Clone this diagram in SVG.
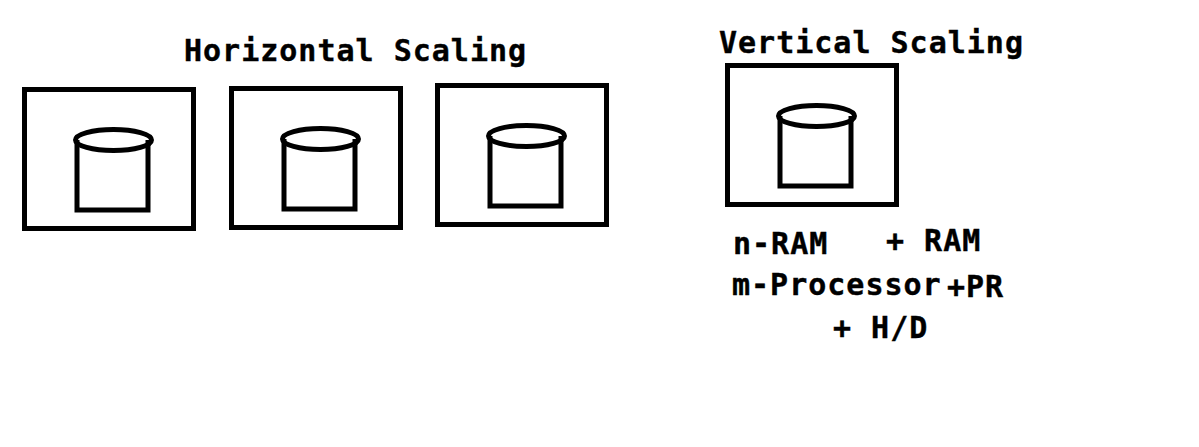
<svg xmlns="http://www.w3.org/2000/svg" width="1199" height="447" viewBox="0 0 1199 447">
<style>
.s{fill:none;stroke:#000;stroke-width:5}
.t{font-family:"DejaVu Sans Mono","Liberation Mono",monospace;font-weight:bold;font-size:30px;letter-spacing:1px;fill:#000;stroke:#000;stroke-width:.4px}
</style>
<defs>
<g id="db">
<path class="s" d="M0 0V70H71V0"/>
<ellipse class="s" cx="36.500" cy="0" rx="38" ry="10.500"/>
</g>
</defs>
<rect width="1199" height="447" fill="#fff"/>
<g id="h1"><rect class="s" x="24.500" y="89.500" width="169" height="139"/><use href="#db" x="77" y="140"/></g>
<g id="h2"><rect class="s" x="231.500" y="88.500" width="169" height="139"/><use href="#db" x="284" y="139"/></g>
<g id="h3"><rect class="s" x="437.500" y="85.500" width="169" height="139"/><use href="#db" x="490" y="136"/></g>
<g id="v1"><rect class="s" x="727.500" y="65.500" width="169" height="139"/><use href="#db" x="780" y="116"/></g>
<text class="t" x="184" y="61">Horizontal Scaling</text>
<text class="t" x="719" y="53">Vertical Scaling</text>
<text class="t" x="733" y="254">n-RAM</text>
<text class="t" x="886" y="251">+ RAM</text>
<text class="t" x="732" y="295">m-Processor</text>
<text class="t" x="947" y="297">+PR</text>
<text class="t" x="833" y="338">+ H/D</text>
</svg>
